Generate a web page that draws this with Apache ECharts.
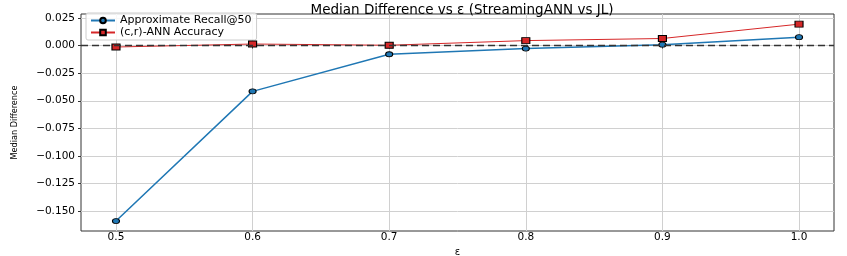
<!DOCTYPE html>
<html><head><meta charset="utf-8">
<script src="https://cdn.jsdelivr.net/npm/echarts@6/dist/echarts.min.js"></script>
<style>html,body{margin:0;padding:0;background:#fff}#c{width:847px;height:256px}</style>
</head><body><div id="c"></div>
<script>
const epsilons = [0.5, 0.6, 0.7, 0.8, 0.9, 1.0];
const recallDiff = [-0.159, -0.0415, -0.0079, -0.0027, 0.0008, 0.0076];
const accuracyDiff = [-0.0013, 0.0014, 0.0003, 0.0045, 0.0064, 0.0194];
const xTicks = [0.5, 0.6, 0.7, 0.8, 0.9, 1.0];
const yTicks = [-0.15, -0.125, -0.1, -0.075, -0.05, -0.025, 0, 0.025];
const seriesNames = ['Approximate Recall@50', '(c,r)-ANN Accuracy'];

const chart = echarts.init(document.getElementById('c'));
const fam = 'DejaVu Sans';
const fmtY = v => { const s = Math.abs(v).toFixed(3); return (v < -1e-9 ? '\u2212' : '') + s; };
chart.setOption({
  animation: false,
  title: { text: 'Median Difference vs \u03b5 (StreamingANN vs JL)', left: 457, textAlign: 'center', top: -2,
    textStyle: { fontFamily: fam, fontSize: 13.5, fontWeight: 'normal', color: '#000' } },
  grid: { left: 81, right: 13, top: 14, bottom: 25, outerBoundsMode: 'none', containLabel: false,
    show: true, borderColor: '#333', borderWidth: 1, backgroundColor: 'transparent' },
  legend: {
    left: 86, top: 13, orient: 'vertical', itemGap: 1, itemWidth: 24, itemHeight: 7,
    backgroundColor: 'rgba(255,255,255,0.85)', borderColor: '#ccc', borderWidth: 1, borderRadius: 2, padding: [2, 5, 2, 4],
    textStyle: { fontFamily: fam, fontSize: 11, color: '#000' },
    data: seriesNames
  },
  xAxis: {
    type: 'value', min: 0.4744, max: 1.0256,
    name: '\u03b5', nameLocation: 'middle', nameGap: 11, nameTextStyle: { fontFamily: fam, fontSize: 10, color: '#000' },
    axisLine: { show: false },
    axisTick: { show: true, customValues: xTicks, length: 3, lineStyle: { color: '#333' } },
    axisLabel: { customValues: xTicks, formatter: v => v.toFixed(1), fontFamily: fam, fontSize: 10.5, color: '#000', margin: 1 },
    splitLine: { show: true, lineStyle: { color: '#d0d0d0', width: 1 } }
  },
  yAxis: {
    type: 'value', min: -0.168, max: 0.0286,
    name: 'Median Difference', nameLocation: 'middle', nameGap: 62, nameRotate: 90,
    nameTextStyle: { fontFamily: 'Liberation Sans Narrow, DejaVu Sans Condensed', fontSize: 9, color: '#000' },
    axisLine: { show: false },
    axisTick: { show: true, customValues: yTicks, length: 3, lineStyle: { color: '#333' } },
    axisLabel: { customValues: yTicks, formatter: fmtY, fontFamily: fam, fontSize: 10.5, color: '#000', margin: 6 },
    splitLine: { show: true, lineStyle: { color: '#d0d0d0', width: 1 } }
  },
  series: [
    {
      name: seriesNames[0], type: 'line', data: epsilons.map((e, i) => [e, recallDiff[i]]),
      symbol: 'circle', symbolSize: [7, 5], showAllSymbol: true,
      lineStyle: { color: '#1f77b4', width: 1.5 },
      itemStyle: { color: '#1f77b4', borderColor: '#000', borderWidth: 1 },
      markLine: { silent: true, symbol: 'none', label: { show: false },
        lineStyle: { color: '#333', type: [7, 4], width: 1.3 }, data: [{ yAxis: 0 }] },
      z: 3
    },
    {
      name: seriesNames[1], type: 'line', data: epsilons.map((e, i) => [e, accuracyDiff[i]]),
      symbol: 'rect', symbolSize: [8, 6], showAllSymbol: true,
      lineStyle: { color: '#d62728', width: 1 },
      itemStyle: { color: '#d62728', borderColor: '#000', borderWidth: 1 },
      z: 4
    }
  ]
});
</script></body></html>
